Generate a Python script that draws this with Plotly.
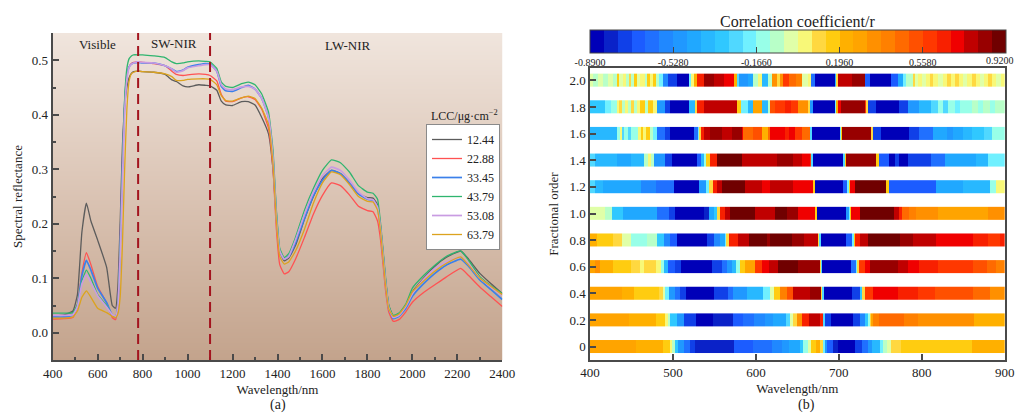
import plotly.graph_objects as go

# ---------- panel (a) data ----------
wavelength = [400,450,490,510,530,550,570,600,640,665,680,690,700,710,720,730,740,750,760,780,800,850,900,930,950,980,1000,1050,1080,1100,1130,1150,1170,1200,1240,1270,1300,1330,1360,1380,1395,1410,1430,1450,1480,1520,1560,1600,1640,1680,1720,1760,1800,1825,1845,1860,1880,1895,1915,1940,1970,2000,2050,2100,2150,2215,2250,2300,2350,2400]
lcc_1244 = [.030,.033,.040,.070,.185,.238,.205,.170,.120,.050,.045,.085,.200,.340,.415,.450,.468,.476,.479,.480,.479,.478,.474,.464,.461,.453,.451,.455,.454,.453,.445,.425,.418,.417,.424,.424,.418,.395,.365,.300,.205,.150,.132,.137,.160,.208,.250,.283,.298,.292,.275,.255,.248,.247,.235,.190,.100,.050,.030,.034,.050,.075,.100,.122,.138,.150,.135,.109,.090,.072]
lcc_2288 = [.025,.026,.028,.050,.110,.147,.125,.085,.055,.028,.024,.055,.170,.310,.420,.470,.488,.494,.496,.497,.496,.494,.490,.480,.474,.472,.473,.475,.474,.472,.462,.437,.425,.424,.431,.433,.428,.410,.375,.300,.190,.125,.108,.112,.135,.175,.218,.252,.275,.270,.253,.232,.224,.222,.205,.165,.080,.038,.021,.024,.038,.056,.074,.088,.102,.118,.105,.084,.066,.048]
lcc_3345 = [.029,.029,.033,.050,.105,.133,.115,.082,.055,.032,.028,.050,.160,.305,.420,.472,.488,.493,.495,.496,.495,.495,.490,.484,.479,.482,.487,.492,.494,.493,.480,.452,.444,.443,.450,.454,.447,.430,.395,.320,.215,.150,.135,.140,.165,.210,.252,.280,.298,.292,.275,.255,.245,.243,.230,.185,.095,.045,.026,.030,.044,.067,.090,.109,.124,.135,.122,.097,.079,.061]
lcc_4379 = [.036,.036,.037,.052,.095,.115,.100,.070,.050,.032,.030,.050,.150,.300,.430,.485,.503,.508,.510,.510,.510,.508,.505,.497,.494,.495,.497,.499,.498,.497,.485,.460,.452,.450,.457,.460,.455,.438,.405,.335,.225,.155,.138,.145,.175,.225,.265,.298,.317,.312,.295,.270,.258,.256,.245,.195,.105,.050,.032,.036,.052,.082,.105,.124,.140,.150,.133,.103,.086,.072]
lcc_5308 = [.032,.032,.033,.048,.090,.107,.092,.068,.047,.033,.030,.048,.140,.280,.405,.465,.487,.493,.495,.497,.496,.495,.490,.484,.478,.481,.486,.490,.492,.492,.480,.455,.447,.446,.451,.452,.447,.430,.395,.320,.210,.150,.135,.140,.170,.217,.258,.288,.304,.298,.280,.258,.246,.244,.230,.185,.095,.046,.028,.032,.048,.072,.098,.118,.130,.139,.126,.100,.084,.068]
lcc_6379 = [.027,.027,.029,.040,.065,.077,.065,.045,.037,.030,.028,.035,.065,.160,.300,.410,.462,.475,.478,.480,.479,.478,.475,.470,.463,.463,.465,.466,.466,.465,.455,.435,.426,.425,.431,.434,.430,.412,.382,.310,.205,.140,.126,.130,.150,.190,.238,.275,.295,.290,.272,.250,.241,.240,.225,.180,.090,.044,.030,.034,.050,.075,.095,.113,.127,.139,.124,.100,.085,.070]
series_names = ["12.44","22.88","33.45","43.79","53.08","63.79"]
series_values = [lcc_1244,lcc_2288,lcc_3345,lcc_4379,lcc_5308,lcc_6379]
series_colors = ["#5c5c5c","#ff5252","#3b80ea","#2fb56f","#c99ce2","#dca31e"]
series_widths = [1.3,1.3,1.7,1.3,1.7,1.3]
divider_wavelengths = [780,1100]
regions = [("Visible",599,.529),("SW-NIR",939,.531),("LW-NIR",1712,.527)]

# ---------- panel (b) data: (start wavelength, r) bands, each running on to the next start ----------
order_20 = [(400,-.02),(404,-.08),(410,-.02),(416,-.08),(422,-.02),(428,-.08),(432,.16),(435,-.02),(440,.04),(444,-.08),(447,.10),(450,-.08),(453,.16),(457,-.02),(460,.04),(466,-.08),(469,.16),(472,.04),(476,.16),(480,-.08),(483,-.20),(488,-.56),(494,-.74),(505,-.86),(519,-.20),(522,.04),(525,.22),(529,.64),(537,.82),(549,.76),(561,.70),(574,.22),(577,-.26),(580,-.50),(590,-.44),(597,-.08),(603,.04),(607,-.38),(615,-.10),(619,.34),(625,.10),(629,.34),(633,.58),(640,.46),(648,.40),(655,-.02),(663,.04),(667,-.62),(671,-.86),(695,-.38),(697,.10),(699,.76),(716,.82),(731,-.68),(738,-.86),(763,-.68),(771,-.44),(777,-.20),(781,-.10),(790,.10),(792,-.02),(796,.04),(800,-.02),(805,.04),(810,.10),(814,.04),(820,-.02),(825,.04),(830,.10),(835,.04),(840,.10),(845,.04),(850,-.02),(855,.04),(860,.10),(865,.04),(870,-.02),(875,.04),(880,.10),(885,.04),(890,-.02),(895,.04)]
order_18 = [(400,-.32),(418,-.20),(425,-.14),(432,.04),(435,.10),(438,-.08),(442,.04),(446,-.08),(450,.10),(453,-.08),(457,.04),(460,.16),(466,-.08),(470,.16),(476,.04),(481,-.50),(490,-.74),(497,-.86),(519,-.40),(526,.10),(529,.64),(537,.76),(577,.16),(582,-.20),(591,-.40),(597,.28),(607,-.40),(615,-.10),(617,.52),(623,.58),(635,.64),(642,.58),(651,.34),(663,.10),(665,-.50),(669,-.86),(695,-.20),(697,.22),(699,.70),(703,.82),(731,.58),(733,.10),(735,-.74),(745,-.86),(773,-.74),(783,-.50),(797,-.38),(811,-.26),(820,-.14),(826,-.26),(832,-.14),(840,-.20),(846,-.14),(860,-.08),(868,-.14),(874,-.08),(882,-.14),(888,-.08)]
order_16 = [(400,-.38),(433,-.14),(436,.04),(438,-.26),(441,-.14),(446,-.26),(450,-.14),(458,.04),(461,.16),(464,.04),(468,.16),(472,-.08),(476,-.20),(481,-.62),(490,-.74),(497,-.86),(525,-.60),(530,-.20),(532,.10),(534,.64),(537,.76),(545,.82),(559,.76),(571,.82),(583,.70),(585,.46),(597,.52),(607,.22),(615,.46),(617,.70),(635,.64),(640,.70),(647,.58),(656,.46),(665,-.26),(668,-.86),(701,-.20),(703,.16),(704,.82),(739,.10),(741,-.74),(751,-.86),(785,-.74),(797,-.62),(813,-.44),(830,-.50),(838,-.44),(850,-.38),(860,-.32),(875,-.26),(885,-.14)]
order_14 = [(400,-.26),(406,-.38),(433,-.44),(450,-.38),(465,-.08),(470,.04),(473,-.08),(477,-.50),(490,-.74),(499,-.86),(529,-.70),(534,-.40),(538,-.14),(540,.16),(545,.64),(553,.88),(583,.76),(625,.82),(645,.76),(655,.70),(665,.58),(667,-.26),(669,-.86),(705,-.26),(707,.16),(709,.82),(745,.16),(748,-.68),(761,-.86),(768,-.74),(773,-.86),(783,-.74),(811,-.62),(828,-.44),(865,-.38),(880,-.20)]
order_12 = [(400,-.26),(406,-.38),(416,-.44),(461,-.56),(479,-.62),(501,-.86),(532,-.50),(540,-.20),(544,.10),(548,.64),(553,.76),(559,.88),(587,.76),(607,.70),(617,.76),(645,.70),(653,.70),(669,.16),(671,-.86),(705,-.68),(710,-.20),(712,.16),(713,.70),(719,.88),(757,.16),(760,-.68),(817,-.44),(850,-.38),(882,-.14),(890,.04)]
order_10 = [(400,-.02),(418,-.08),(426,-.29),(440,-.44),(481,-.62),(495,-.74),(502,-.86),(537,-.80),(543,-.44),(550,-.30),(553,.10),(557,.64),(563,.76),(569,.88),(599,.76),(623,.88),(637,.82),(651,.70),(671,.16),(674,-.86),(709,-.50),(712,-.20),(713,.16),(715,.70),(725,.88),(767,.76),(772,.64),(776,.46),(785,.40),(793,.34),(820,.30),(880,.34)]
order_08 = [(400,.22),(408,.19),(422,.16),(428,.10),(438,-.02),(449,-.14),(469,-.08),(481,-.32),(489,-.56),(497,-.68),(505,-.86),(541,-.74),(549,-.56),(557,-.44),(563,-.20),(564,.10),(568,.64),(579,.76),(592,.88),(613,.82),(617,.88),(643,.82),(658,.76),(675,.10),(676,-.26),(678,-.86),(709,-.68),(716,-.20),(718,.16),(719,.64),(725,.76),(735,.88),(774,.82),(790,.76),(817,.70),(862,.64),(880,.58),(894,.64)]
order_06 = [(400,.28),(406,.34),(412,.22),(428,.16),(449,.10),(460,.04),(465,.10),(480,.04),(485,-.14),(489,-.38),(494,-.68),(503,-.74),(510,-.86),(547,-.74),(559,-.62),(565,-.50),(571,-.38),(576,-.14),(581,.16),(587,.28),(599,.58),(607,.70),(616,.76),(627,.88),(651,.82),(677,.10),(679,-.26),(680,-.86),(715,-.62),(721,-.20),(722,.10),(724,.58),(731,.70),(737,.82),(771,.76),(783,.70),(797,.64),(819,.58),(862,.52),(879,.46),(890,.40)]
order_04 = [(400,.28),(438,.22),(453,.16),(483,.10),(488,-.02),(491,-.20),(495,-.50),(503,-.62),(509,-.74),(516,-.86),(550,-.74),(566,-.62),(573,-.50),(589,-.38),(609,-.20),(617,-.02),(622,.16),(629,.40),(637,.52),(645,.76),(665,.82),(679,.10),(680,-.26),(682,-.86),(716,-.74),(725,-.30),(728,.10),(731,.58),(741,.70),(771,.64),(795,.58),(816,.52),(862,.46),(882,.34)]
order_02 = [(400,.28),(447,.22),(480,.16),(491,.04),(494,-.08),(497,-.32),(505,-.50),(513,-.74),(528,-.86),(548,-.80),(572,-.68),(585,-.62),(598,-.56),(611,-.50),(621,-.44),(636,-.26),(641,-.02),(645,.10),(649,.34),(655,.64),(664,.76),(677,.64),(681,-.26),(683,-.74),(690,-.86),(717,-.74),(725,-.56),(731,-.30),(735,-.14),(737,.10),(739,.28),(741,.40),(748,.46),(778,.40),(795,.34),(863,.22)]
order_00 = [(400,.28),(455,.22),(488,.16),(496,.04),(499,-.08),(502,-.30),(506,-.50),(513,-.62),(521,-.74),(527,-.80),(574,-.68),(596,-.62),(619,-.56),(631,-.50),(640,-.44),(653,-.30),(657,-.14),(663,-.02),(667,.16),(672,.22),(677,.10),(681,-.20),(683,-.50),(686,-.68),(693,-.80),(699,-.86),(720,-.74),(728,-.62),(735,-.50),(740,-.40),(750,-.20),(753,-.08),(758,-.02),(763,.10),(775,.16),(860,.22)]
fractional_orders = [2.0,1.8,1.6,1.4,1.2,1.0,0.8,0.6,0.4,0.2,0.0]
order_bands = [order_20,order_18,order_16,order_14,order_12,order_10,order_08,order_06,order_04,order_02,order_00]
order_labels = ["2.0","1.8","1.6","1.4","1.2","1.0","0.8","0.6","0.4","0.2","0"]
wavelength_end = 900

# ---------- colour key ----------
r_min, r_max = -0.89, 0.92
colorbar_ticks = [-0.89,-0.528,-0.166,0.196,0.558,0.92]
colorbar_labels = ["-0.8900","-0.5280","-0.1660","0.1960","0.5580",""]
colorbar_last_label = "0.9200"
level_colors = ["#0000b8","#0a22c8","#1040e8","#1c5cff","#2070ff","#2088ff","#2098ff","#20a8ff","#28b8ff","#30c8ff",
                "#50d8ff","#70f0ff","#98ffe8","#b8ffc8","#e0ffa8","#f8f878","#ffd840","#ffcc10","#ffb000","#ffa400",
                "#ff9000","#ff8000","#ff6a00","#ff5000","#ff3800","#f82000","#f00000","#c00000","#980000","#700000"]

W, H = 1016, 415
FONT = "Liberation Serif"
TXT = "#222222"
AX = "#4a4a4a"

colorscale = []
n = len(level_colors)
for i, c in enumerate(level_colors):
    colorscale += [[i / n, c], [(i + 1) / n, c]]

fig = go.Figure()

# panel (a) background
fig.add_trace(go.Heatmap(x=[400, 2400], y=[-0.05, 0.25, 0.55], z=[[0, 0], [.5, .5], [1, 1]], zsmooth="best",
                         colorscale=[[0, "#c3a38c"], [.5, "#dac3b3"], [1, "#f0e5dd"]], showscale=False,
                         hoverinfo="skip", xaxis="x", yaxis="y"))
for name, vals, col, w in zip(series_names, series_values, series_colors, series_widths):
    fig.add_trace(go.Scatter(x=wavelength, y=vals, name=name, mode="lines",
                             line=dict(color=col, width=w, shape="spline", smoothing=0.4), xaxis="x", yaxis="y"))

# panel (b) bands
for o, bands in zip(fractional_orders, order_bands):
    starts = [b[0] for b in bands]
    vals = [b[1] for b in bands]
    fig.add_trace(go.Heatmap(x=starts + [wavelength_end], y=[o - 0.05, o + 0.05], z=[vals],
                             coloraxis="coloraxis", xaxis="x2", yaxis="y2", showlegend=False))

shapes = [dict(type="line", xref="x", yref="y", x0=v, x1=v, y0=-0.05, y1=0.55,
               line=dict(color="#a3141e", width=2, dash="10px,6px")) for v in divider_wavelengths]

ann = [dict(text=t, x=x, y=y, xref="x", yref="y", showarrow=False, font=dict(size=13, color=TXT)) for t, x, y in regions]
def text(t, px, py, size, angle=0, anchor="center"):
    return dict(text=t, x=px / W, y=1 - py / H, xref="paper", yref="paper", xanchor=anchor, yanchor="middle",
                showarrow=False, textangle=angle, font=dict(size=size, color=TXT))
ann += [text("LCC/μg·cm<sup>−2</sup>", 464, 115, 12),
        text("(a)", 278, 405, 14), text("(b)", 806, 405, 14),
        text("Correlation coefficient/r", 797, 21, 16),
        text(colorbar_last_label, 1016, 60, 10, anchor="right")]

def axis(**kw):
    base = dict(showgrid=False, zeroline=False, showline=True, linecolor=AX, linewidth=2, ticks="inside",
                tickcolor=AX, tickwidth=1.5, ticklen=6, tickfont=dict(size=13, color=TXT))
    base.update(kw)
    return base

fig.update_layout(
    width=W, height=H, margin=dict(l=0, r=0, t=0, b=0, autoexpand=False),
    paper_bgcolor="white", plot_bgcolor="white", font=dict(family=FONT, color=TXT),
    shapes=shapes, annotations=ann,
    xaxis=axis(domain=[52.7 / W, 502.3 / W], range=[400, 2400], tickmode="array", tickvals=list(range(400, 2401, 200)),
               minor=dict(tickvals=list(range(500, 2400, 200)), ticks="inside", ticklen=3, tickcolor=AX, tickwidth=1.5),
               title=dict(text="Wavelength/nm", font=dict(size=13, color=TXT), standoff=5), anchor="y"),
    yaxis=axis(domain=[1 - 360 / H, 1 - 33 / H], range=[-0.05, 0.55], tickvals=[0, .1, .2, .3, .4, .5], tickformat=".1f",
               minor=dict(tickvals=[.05, .15, .25, .35, .45, .55], ticks="inside", ticklen=3, tickcolor=AX, tickwidth=1.5),
               title=dict(text="Spectral reflectance", font=dict(size=13, color=TXT), standoff=6), anchor="x"),
    xaxis2=axis(domain=[590 / W, 1004.7 / W], range=[400, 900], tickvals=[400, 500, 600, 700, 800, 900], mirror=True, linewidth=1.5,
                title=dict(text="Wavelength/nm", font=dict(size=13, color=TXT), standoff=5), anchor="y2"),
    yaxis2=axis(domain=[1 - 360 / H, 1 - 68 / H], range=[-0.1, 2.0925], tickmode="array", tickvals=fractional_orders, ticktext=order_labels,
                mirror=True, linewidth=1.5,
                title=dict(text="Fractional order", font=dict(size=13, color=TXT), standoff=8), anchor="x2"),
    coloraxis=dict(colorscale=colorscale, cmin=r_min, cmax=r_max,
                   colorbar=dict(orientation="h", x=590 / W, xanchor="left", y=1 - 30 / H, yanchor="top",
                                 len=416 / W, lenmode="fraction", thickness=23, thicknessmode="pixels",
                                 xpad=0, ypad=0, outlinecolor="#444444", outlinewidth=1,
                                 ticks="inside", ticklen=6, tickcolor="#444444", tickwidth=1,
                                 tickmode="array", tickvals=colorbar_ticks, ticktext=colorbar_labels,
                                 tickfont=dict(size=10, color=TXT))),
    legend=dict(x=426 / W, y=1 - 124 / H, xanchor="left", yanchor="top", bgcolor="white", bordercolor="#8a8a8a",
                borderwidth=1, font=dict(size=12, color=TXT), itemwidth=30, tracegroupgap=0, traceorder="normal",
                entrywidth=28, entrywidthmode="pixels"),
)
fig.write_html("out.html", config={"displayModeBar": False},
               post_script="document.body.style.margin='0';window.dispatchEvent(new Event('resize'));")
